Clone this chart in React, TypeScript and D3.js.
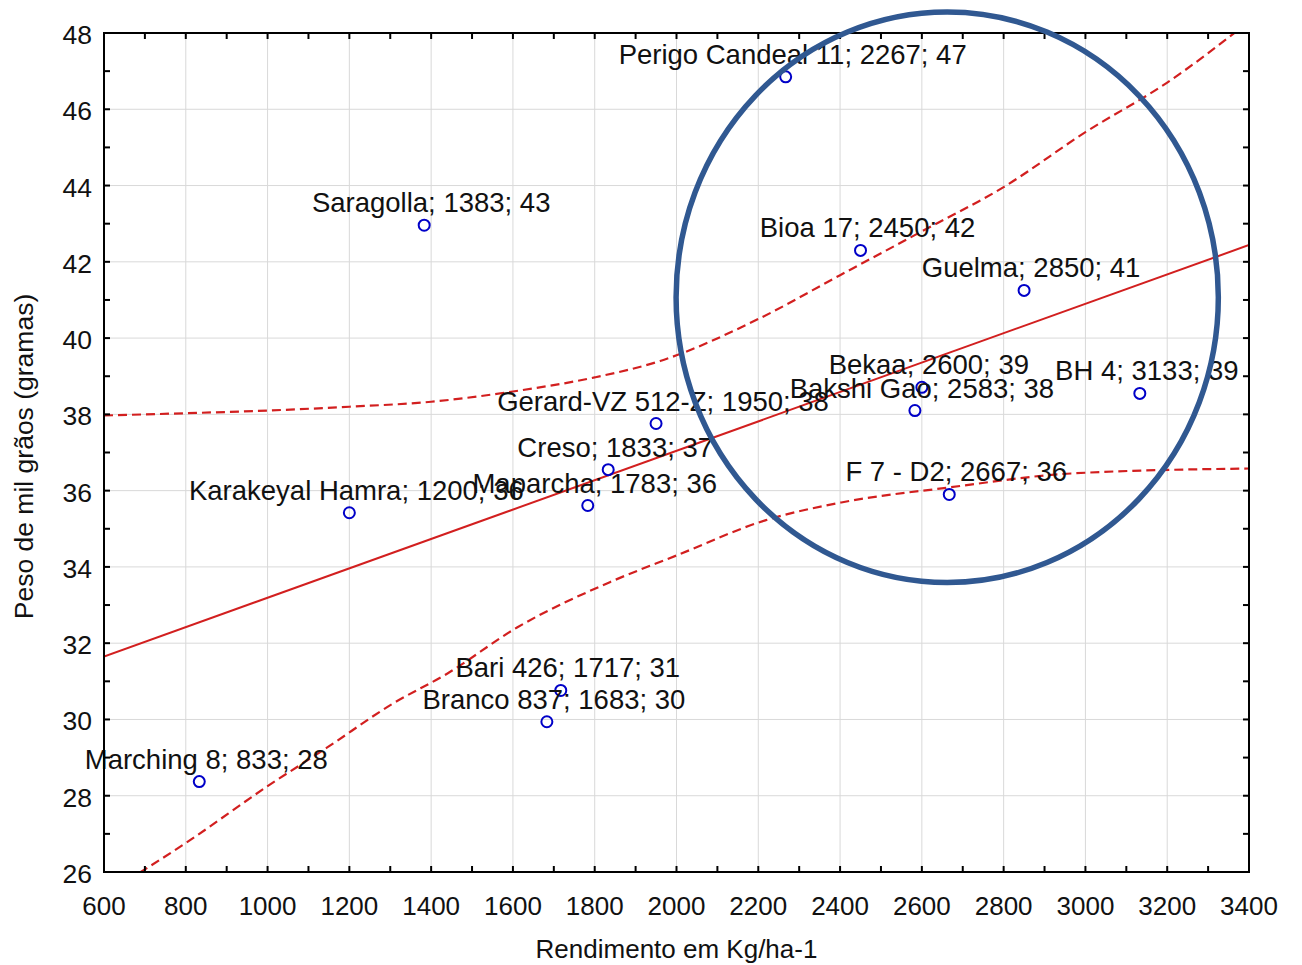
import React, { useEffect, useRef } from 'react';
import * as d3 from 'd3';

// cultivars: yield (kg/ha) and thousand-grain weight (g)
const labels = [
  'Perigo Candeal 11; 2267; 47',
  'Saragolla; 1383; 43',
  'Bioa 17; 2450; 42',
  'Guelma; 2850; 41',
  'Bekaa; 2600; 39',
  'Bakshi Gao; 2583; 38',
  'BH 4; 3133; 39',
  'Gerard-VZ 512-Z; 1950; 38',
  'Creso; 1833; 37',
  'Maparcha; 1783; 36',
  'Karakeyal Hamra; 1200; 36',
  'F 7 - D2; 2667; 36',
  'Bari 426; 1717; 31',
  'Branco 837; 1683; 30',
  'Marching 8; 833; 28',
];
const yields = [2267, 1383, 2450, 2850, 2600, 2583, 3133, 1950, 1833, 1783, 1200, 2667, 1717, 1683, 833];
const weights = [46.85, 42.96, 42.3, 41.25, 38.71, 38.1, 38.55, 37.76, 36.55, 35.61, 35.42, 35.9, 30.76, 29.94, 28.37];

// fitted line and confidence bands
const fitX = [600, 3400];
const fitY = [31.65, 42.44];
const upperX = [600, 800, 1000, 1200, 1400, 1600, 1800, 1960, 2200, 2400, 2600, 2800, 3000, 3200, 3400];
const upperY = [37.97, 38.03, 38.1, 38.2, 38.33, 38.6, 38.97, 39.4, 40.5, 41.65, 42.8, 43.96, 45.4, 46.7, 48.3];
const lowerX = [600, 690, 800, 1000, 1145, 1307, 1439, 1610, 1837, 2000, 2217, 2403, 2664, 2965, 3400];
const lowerY = [25.4, 26.0, 26.76, 28.25, 29.26, 30.42, 31.2, 32.41, 33.6, 34.3, 35.22, 35.69, 36.08, 36.45, 36.58];

// highlight ellipse (data units)
const ellipseCenter = [2662, 41.07];
const ellipseRadius = [663, 7.48];

const xTicks = d3.range(600, 3401, 200);
const yTicks = d3.range(26, 49, 2);

const App = () => {
  const ref = useRef<SVGSVGElement>(null);

  useEffect(() => {
    const width = 1302;
    const height = 965;
    const margin = { top: 33, right: 53, bottom: 93, left: 104 };

    const svg = d3.select(ref.current);
    svg.selectAll('*').remove();
    svg.attr('width', width).attr('height', height).style('background', '#fff');

    const x = d3.scaleLinear().domain([600, 3400]).range([margin.left, width - margin.right]);
    const y = d3.scaleLinear().domain([26, 48]).range([height - margin.bottom, margin.top]);
    const [x0, x1] = x.range();
    const [y0, y1] = y.range();
    const font = 'Arial, "Liberation Sans", sans-serif';

    svg.append('defs').append('clipPath').attr('id', 'plot-clip')
      .append('rect').attr('x', x0).attr('y', y1).attr('width', x1 - x0).attr('height', y0 - y1);

    // grid
    const grid = svg.append('g').attr('stroke', '#d9d9d9').attr('stroke-width', 1);
    xTicks.slice(1, -1).forEach(t => {
      grid.append('line').attr('x1', x(t)).attr('x2', x(t)).attr('y1', y1).attr('y2', y0);
    });
    yTicks.slice(1, -1).forEach(t => {
      grid.append('line').attr('x1', x0).attr('x2', x1).attr('y1', y(t)).attr('y2', y(t));
    });

    const plot = svg.append('g').attr('clip-path', 'url(#plot-clip)');
    const line = d3.line<[number, number]>().x(d => x(d[0])).y(d => y(d[1]));
    const curve = d3.line<[number, number]>().x(d => x(d[0])).y(d => y(d[1])).curve(d3.curveMonotoneX);

    plot.append('path')
      .datum(fitX.map((v, i) => [v, fitY[i]] as [number, number]))
      .attr('fill', 'none').attr('stroke', '#d21f1f').attr('stroke-width', 2)
      .attr('d', line);

    [[upperX, upperY], [lowerX, lowerY]].forEach(([bx, by]) => {
      plot.append('path')
        .datum(bx.map((v, i) => [v, by[i]] as [number, number]))
        .attr('fill', 'none').attr('stroke', '#d21f1f').attr('stroke-width', 2.2)
        .attr('stroke-dasharray', '9,5')
        .attr('d', curve);
    });

    // points
    svg.append('g').selectAll('circle')
      .data(yields)
      .enter()
      .append('circle')
      .attr('cx', d => x(d))
      .attr('cy', (d, i) => y(weights[i]))
      .attr('r', 5.5)
      .attr('fill', 'none')
      .attr('stroke', '#0000c8')
      .attr('stroke-width', 2);

    // point labels
    svg.append('g').selectAll('text')
      .data(labels)
      .enter()
      .append('text')
      .attr('x', (d, i) => x(yields[i]) + 7)
      .attr('y', (d, i) => y(weights[i]) - 13)
      .attr('text-anchor', 'middle')
      .style('font-family', font)
      .style('font-size', '27.5px')
      .style('fill', '#111')
      .text(d => d);

    // frame and inward ticks
    svg.append('rect')
      .attr('x', x0).attr('y', y1).attr('width', x1 - x0).attr('height', y0 - y1)
      .attr('fill', 'none').attr('stroke', '#000').attr('stroke-width', 2);

    const ticks = svg.append('g').attr('stroke', '#000').attr('stroke-width', 2);
    d3.range(700, 3400, 100).forEach(t => {
      ticks.append('line').attr('x1', x(t)).attr('x2', x(t)).attr('y1', y0).attr('y2', y0 - 6);
      ticks.append('line').attr('x1', x(t)).attr('x2', x(t)).attr('y1', y1).attr('y2', y1 + 6);
    });
    d3.range(27, 48, 1).forEach(t => {
      ticks.append('line').attr('x1', x0).attr('x2', x0 + 6).attr('y1', y(t)).attr('y2', y(t));
      ticks.append('line').attr('x1', x1).attr('x2', x1 - 6).attr('y1', y(t)).attr('y2', y(t));
    });

    // tick labels
    svg.append('g').selectAll('text')
      .data(xTicks)
      .enter()
      .append('text')
      .attr('x', d => x(d))
      .attr('y', y0 + 43)
      .attr('text-anchor', 'middle')
      .style('font-family', font)
      .style('font-size', '26px')
      .style('fill', '#111')
      .text(d => d);

    svg.append('g').selectAll('text')
      .data(yTicks)
      .enter()
      .append('text')
      .attr('x', x0 - 12)
      .attr('y', d => y(d) + 11)
      .attr('text-anchor', 'end')
      .style('font-family', font)
      .style('font-size', '26.5px')
      .style('fill', '#111')
      .text(d => d);

    // axis titles
    svg.append('text')
      .attr('x', (x0 + x1) / 2)
      .attr('y', 958)
      .attr('text-anchor', 'middle')
      .style('font-family', font)
      .style('font-size', '26px')
      .style('fill', '#111')
      .text('Rendimento em Kg/ha-1');

    svg.append('text')
      .attr('transform', `translate(33,${(y0 + y1) / 2 + 4}) rotate(-90)`)
      .attr('text-anchor', 'middle')
      .style('font-family', font)
      .style('font-size', '26.5px')
      .style('fill', '#111')
      .text('Peso de mil grãos (gramas)');

    // highlight ellipse
    const cx = x(ellipseCenter[0]);
    const cy = y(ellipseCenter[1]);
    svg.append('ellipse')
      .attr('cx', cx)
      .attr('cy', cy)
      .attr('rx', x(ellipseCenter[0] + ellipseRadius[0]) - cx)
      .attr('ry', cy - y(ellipseCenter[1] + ellipseRadius[1]))
      .attr('fill', 'none')
      .attr('stroke', '#305891')
      .attr('stroke-width', 5.5);
  }, []);

  return <svg ref={ref} style={{ position: 'absolute', left: 0, top: 0 }}></svg>;
};

export default App;
